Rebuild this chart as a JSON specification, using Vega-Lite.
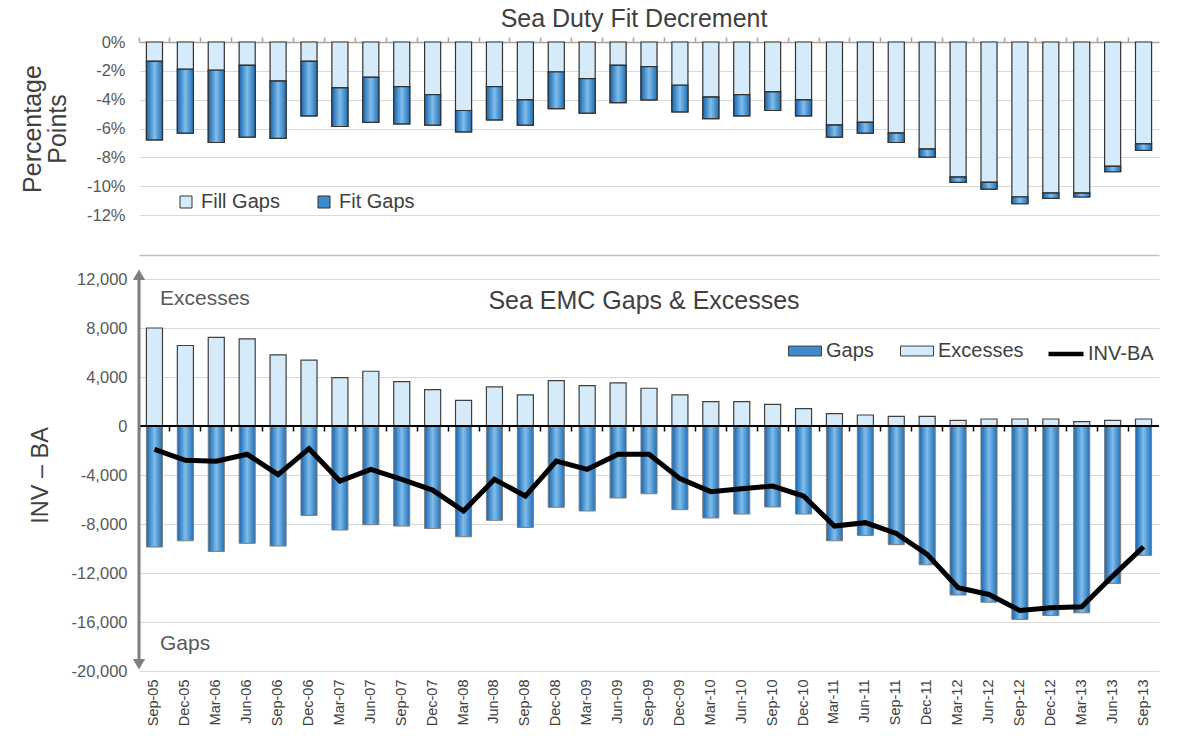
{
  "$schema": "https://vega.github.io/schema/vega-lite/v6.json",
  "background": "white",
  "padding": {"left": 20, "top": 7, "right": 10, "bottom": 2},
  "config": {
    "font": "Liberation Sans",
    "view": {"stroke": null},
    "axis": {"labelFont": "Liberation Sans", "titleFont": "Liberation Sans"},
    "legend": {"labelFont": "Liberation Sans"},
    "title": {"font": "Liberation Sans"}
  },
  "spacing": 14,
  "resolve": {"scale": {"fill": "independent", "stroke": "independent"}, "legend": {"fill": "independent", "stroke": "independent"}},
  "datasets": {
    "top": [
      {"d": "Sep-05", "s": "Fill Gaps", "v": -1.34}, {"d": "Sep-05", "s": "Fit Gaps", "v": -5.45},
      {"d": "Dec-05", "s": "Fill Gaps", "v": -1.89}, {"d": "Dec-05", "s": "Fit Gaps", "v": -4.43},
      {"d": "Mar-06", "s": "Fill Gaps", "v": -1.96}, {"d": "Mar-06", "s": "Fit Gaps", "v": -5.01},
      {"d": "Jun-06", "s": "Fill Gaps", "v": -1.62}, {"d": "Jun-06", "s": "Fit Gaps", "v": -4.98},
      {"d": "Sep-06", "s": "Fill Gaps", "v": -2.72}, {"d": "Sep-06", "s": "Fit Gaps", "v": -3.97},
      {"d": "Dec-06", "s": "Fill Gaps", "v": -1.34}, {"d": "Dec-06", "s": "Fit Gaps", "v": -3.78},
      {"d": "Mar-07", "s": "Fill Gaps", "v": -3.18}, {"d": "Mar-07", "s": "Fit Gaps", "v": -2.68},
      {"d": "Jun-07", "s": "Fill Gaps", "v": -2.45}, {"d": "Jun-07", "s": "Fit Gaps", "v": -3.13},
      {"d": "Sep-07", "s": "Fill Gaps", "v": -3.09}, {"d": "Sep-07", "s": "Fit Gaps", "v": -2.59},
      {"d": "Dec-07", "s": "Fill Gaps", "v": -3.65}, {"d": "Dec-07", "s": "Fit Gaps", "v": -2.12},
      {"d": "Mar-08", "s": "Fill Gaps", "v": -4.75}, {"d": "Mar-08", "s": "Fit Gaps", "v": -1.48},
      {"d": "Jun-08", "s": "Fill Gaps", "v": -3.09}, {"d": "Jun-08", "s": "Fit Gaps", "v": -2.31},
      {"d": "Sep-08", "s": "Fill Gaps", "v": -4.02}, {"d": "Sep-08", "s": "Fit Gaps", "v": -1.75},
      {"d": "Dec-08", "s": "Fill Gaps", "v": -2.08}, {"d": "Dec-08", "s": "Fit Gaps", "v": -2.54},
      {"d": "Mar-09", "s": "Fill Gaps", "v": -2.54}, {"d": "Mar-09", "s": "Fit Gaps", "v": -2.40},
      {"d": "Jun-09", "s": "Fill Gaps", "v": -1.62}, {"d": "Jun-09", "s": "Fit Gaps", "v": -2.58},
      {"d": "Sep-09", "s": "Fill Gaps", "v": -1.71}, {"d": "Sep-09", "s": "Fit Gaps", "v": -2.31},
      {"d": "Dec-09", "s": "Fill Gaps", "v": -3.00}, {"d": "Dec-09", "s": "Fit Gaps", "v": -1.85},
      {"d": "Mar-10", "s": "Fill Gaps", "v": -3.83}, {"d": "Mar-10", "s": "Fit Gaps", "v": -1.48},
      {"d": "Jun-10", "s": "Fill Gaps", "v": -3.65}, {"d": "Jun-10", "s": "Fit Gaps", "v": -1.47},
      {"d": "Sep-10", "s": "Fill Gaps", "v": -3.46}, {"d": "Sep-10", "s": "Fit Gaps", "v": -1.29},
      {"d": "Dec-10", "s": "Fill Gaps", "v": -4.02}, {"d": "Dec-10", "s": "Fit Gaps", "v": -1.10},
      {"d": "Mar-11", "s": "Fill Gaps", "v": -5.77}, {"d": "Mar-11", "s": "Fit Gaps", "v": -0.83},
      {"d": "Jun-11", "s": "Fill Gaps", "v": -5.58}, {"d": "Jun-11", "s": "Fit Gaps", "v": -0.74},
      {"d": "Sep-11", "s": "Fill Gaps", "v": -6.32}, {"d": "Sep-11", "s": "Fit Gaps", "v": -0.65},
      {"d": "Dec-11", "s": "Fill Gaps", "v": -7.43}, {"d": "Dec-11", "s": "Fit Gaps", "v": -0.55},
      {"d": "Mar-12", "s": "Fill Gaps", "v": -9.37}, {"d": "Mar-12", "s": "Fit Gaps", "v": -0.37},
      {"d": "Jun-12", "s": "Fill Gaps", "v": -9.74}, {"d": "Jun-12", "s": "Fit Gaps", "v": -0.46},
      {"d": "Sep-12", "s": "Fill Gaps", "v": -10.75}, {"d": "Sep-12", "s": "Fit Gaps", "v": -0.47},
      {"d": "Dec-12", "s": "Fill Gaps", "v": -10.48}, {"d": "Dec-12", "s": "Fit Gaps", "v": -0.37},
      {"d": "Mar-13", "s": "Fill Gaps", "v": -10.48}, {"d": "Mar-13", "s": "Fit Gaps", "v": -0.27},
      {"d": "Jun-13", "s": "Fill Gaps", "v": -8.63}, {"d": "Jun-13", "s": "Fit Gaps", "v": -0.37},
      {"d": "Sep-13", "s": "Fill Gaps", "v": -7.06}, {"d": "Sep-13", "s": "Fit Gaps", "v": -0.46}
    ],
    "bottom": [
      {"d": "Sep-05", "gaps": -9880, "exc": 8000, "inv": -1900},
      {"d": "Dec-05", "gaps": -9370, "exc": 6570, "inv": -2800},
      {"d": "Mar-06", "gaps": -10240, "exc": 7230, "inv": -2880},
      {"d": "Jun-06", "gaps": -9580, "exc": 7120, "inv": -2310},
      {"d": "Sep-06", "gaps": -9800, "exc": 5810, "inv": -3970},
      {"d": "Dec-06", "gaps": -7300, "exc": 5370, "inv": -1850},
      {"d": "Mar-07", "gaps": -8490, "exc": 3950, "inv": -4490},
      {"d": "Jun-07", "gaps": -8060, "exc": 4470, "inv": -3540},
      {"d": "Sep-07", "gaps": -8170, "exc": 3630, "inv": -4350},
      {"d": "Dec-07", "gaps": -8360, "exc": 2970, "inv": -5230},
      {"d": "Mar-08", "gaps": -9040, "exc": 2100, "inv": -6940},
      {"d": "Jun-08", "gaps": -7700, "exc": 3190, "inv": -4350},
      {"d": "Sep-08", "gaps": -8280, "exc": 2540, "inv": -5720},
      {"d": "Dec-08", "gaps": -6640, "exc": 3710, "inv": -2860},
      {"d": "Mar-09", "gaps": -6940, "exc": 3300, "inv": -3540},
      {"d": "Jun-09", "gaps": -5880, "exc": 3520, "inv": -2310},
      {"d": "Sep-09", "gaps": -5530, "exc": 3080, "inv": -2310},
      {"d": "Dec-09", "gaps": -6830, "exc": 2540, "inv": -4300},
      {"d": "Mar-10", "gaps": -7510, "exc": 1990, "inv": -5360},
      {"d": "Jun-10", "gaps": -7190, "exc": 1990, "inv": -5120},
      {"d": "Sep-10", "gaps": -6610, "exc": 1770, "inv": -4900},
      {"d": "Dec-10", "gaps": -7190, "exc": 1420, "inv": -5720},
      {"d": "Mar-11", "gaps": -9370, "exc": 1010, "inv": -8170},
      {"d": "Jun-11", "gaps": -8930, "exc": 900, "inv": -7890},
      {"d": "Sep-11", "gaps": -9690, "exc": 790, "inv": -8770},
      {"d": "Dec-11", "gaps": -11330, "exc": 790, "inv": -10480},
      {"d": "Mar-12", "gaps": -13800, "exc": 460, "inv": -13200},
      {"d": "Jun-12", "gaps": -14380, "exc": 570, "inv": -13750},
      {"d": "Sep-12", "gaps": -15790, "exc": 570, "inv": -15060},
      {"d": "Dec-12", "gaps": -15470, "exc": 570, "inv": -14840},
      {"d": "Mar-13", "gaps": -15250, "exc": 360, "inv": -14760},
      {"d": "Jun-13", "gaps": -12850, "exc": 460, "inv": -12250},
      {"d": "Sep-13", "gaps": -10560, "exc": 570, "inv": -9860}
    ]
  },
  "vconcat": [
    {
      "width": 1020,
      "height": 173,
      "title": {"text": "Sea Duty Fit Decrement", "fontSize": 25, "fontWeight": "normal", "color": "#404040", "offset": 2, "anchor": "middle", "frame": "group", "dx": -15},
      "data": {"name": "top"},
      "transform": [
        {"stack": "v", "groupby": ["d"], "sort": [{"field": "s", "order": "ascending"}], "as": ["v0", "v1"]}
      ],
      "resolve": {"axis": {"x": "independent"}},
      "layer": [
        {
          "mark": {"type": "bar", "width": {"band": 0.52}, "stroke": "#333333", "strokeWidth": 1.2},
          "encoding": {
            "x": {
              "field": "d", "type": "ordinal", "sort": null,
              "scale": {"domain": ["Sep-05","Dec-05","Mar-06","Jun-06","Sep-06","Dec-06","Mar-07","Jun-07","Sep-07","Dec-07","Mar-08","Jun-08","Sep-08","Dec-08","Mar-09","Jun-09","Sep-09","Dec-09","Mar-10","Jun-10","Sep-10","Dec-10","Mar-11","Jun-11","Sep-11","Dec-11","Mar-12","Jun-12","Sep-12","Dec-12","Mar-13","Jun-13","Sep-13"], "paddingInner": 0, "paddingOuter": 0},
              "axis": {"orient": "top", "title": null, "labels": false, "ticks": true, "tickColor": "#a6a6a6", "tickSize": 5, "tickWidth": 1.5, "bandPosition": 0, "domainColor": "#a6a6a6", "domainWidth": 1.5, "grid": false}
            },
            "y": {
              "field": "v0", "type": "quantitative", "title": ["Percentage", "Points"],
              "scale": {"domain": [-12, 0], "nice": false},
              "axis": {
                "values": [0, -2, -4, -6, -8, -10, -12],
                "labelExpr": "datum.value + '%'",
                "labelOverlap": false,
                "titleFontSize": 25, "titleFontWeight": "normal", "titleColor": "#404040", "titleLineHeight": 25, "titlePadding": 16,
                "labelFontSize": 16.5, "labelColor": "#595959", "labelPadding": 14,
                "domain": false, "ticks": false, "gridColor": "#d9d9d9", "gridWidth": 1.2
              }
            },
            "y2": {"field": "v1"},
            "fill": {
              "field": "s", "type": "nominal",
              "scale": {"domain": ["Fill Gaps", "Fit Gaps"], "range": ["#d6ebfa", "#3d8bcd"]},
              "legend": {"orient": "none", "legendX": 37, "legendY": 150, "direction": "horizontal", "title": null, "symbolType": "square", "symbolSize": 144, "symbolStrokeColor": "#333333", "symbolStrokeWidth": 1, "labelFontSize": 20, "labelColor": "#404040", "columnPadding": 34, "labelOffset": 5}
            }
          }
        },
        {
          "transform": [{"filter": "datum.s === 'Fit Gaps'"}],
          "mark": {"type": "bar", "width": {"band": 0.52}, "stroke": "#333333", "strokeWidth": 1.2,
            "fill": {"gradient": "linear", "x1": 0, "y1": 0, "x2": 1, "y2": 0, "stops": [{"offset": 0, "color": "#1565b0"}, {"offset": 0.5, "color": "#80bdea"}, {"offset": 1, "color": "#1f70b8"}]}},
          "encoding": {
            "x": {"field": "d", "type": "ordinal", "sort": null,
              "scale": {"domain": ["Sep-05","Dec-05","Mar-06","Jun-06","Sep-06","Dec-06","Mar-07","Jun-07","Sep-07","Dec-07","Mar-08","Jun-08","Sep-08","Dec-08","Mar-09","Jun-09","Sep-09","Dec-09","Mar-10","Jun-10","Sep-10","Dec-10","Mar-11","Jun-11","Sep-11","Dec-11","Mar-12","Jun-12","Sep-12","Dec-12","Mar-13","Jun-13","Sep-13"], "paddingInner": 0, "paddingOuter": 0},
              "axis": {"orient": "bottom", "offset": 40, "title": null, "labels": false, "ticks": false, "grid": false, "domain": true, "domainColor": "#bfbfbf", "domainWidth": 1.5}},
            "y": {
              "field": "v0", "type": "quantitative", "title": ["Percentage", "Points"],
              "scale": {"domain": [-12, 0], "nice": false},
              "axis": {
                "values": [0, -2, -4, -6, -8, -10, -12],
                "labelExpr": "datum.value + '%'",
                "labelOverlap": false,
                "titleFontSize": 25, "titleFontWeight": "normal", "titleColor": "#404040", "titleLineHeight": 25, "titlePadding": 16,
                "labelFontSize": 16.5, "labelColor": "#595959", "labelPadding": 14,
                "domain": false, "ticks": false, "gridColor": "#d9d9d9", "gridWidth": 1.2
              }
            },
            "y2": {"field": "v1"}
          }
        }
      ]
    },
    {
      "width": 1020,
      "height": 392,
      "title": {"text": "Sea EMC Gaps & Excesses", "fontSize": 25, "fontWeight": "normal", "color": "#404040", "offset": -45, "anchor": "middle", "frame": "group", "dx": -5},
      "resolve": {"axis": {"x": "independent"}},
      "layer": [
        {
          "data": {"name": "bottom"},
          "mark": {"type": "bar", "width": {"band": 0.52}, "stroke": "#404040", "strokeWidth": 1.2},
          "encoding": {
            "x": {
              "field": "d", "type": "ordinal", "sort": null,
              "scale": {"domain": ["Sep-05","Dec-05","Mar-06","Jun-06","Sep-06","Dec-06","Mar-07","Jun-07","Sep-07","Dec-07","Mar-08","Jun-08","Sep-08","Dec-08","Mar-09","Jun-09","Sep-09","Dec-09","Mar-10","Jun-10","Sep-10","Dec-10","Mar-11","Jun-11","Sep-11","Dec-11","Mar-12","Jun-12","Sep-12","Dec-12","Mar-13","Jun-13","Sep-13"], "paddingInner": 0, "paddingOuter": 0},
              "axis": {"orient": "bottom", "offset": -245, "title": null, "labels": false, "domain": false, "ticks": true, "tickColor": "#000000", "tickSize": 5, "tickWidth": 1.5, "bandPosition": 0, "grid": false}
            },
            "y": {
              "field": "exc", "type": "quantitative", "title": "INV – BA",
              "scale": {"domain": [-20000, 12000], "nice": false},
              "axis": {
                "values": [12000, 8000, 4000, 0, -4000, -8000, -12000, -16000, -20000],
                "labelExpr": "(datum.value < 0 ? '-' : '') + format(abs(datum.value), ',')",
                "labelOverlap": false,
                "titleFontSize": 23.5, "titleFontWeight": "normal", "titleColor": "#404040", "titlePadding": 19,
                "labelFontSize": 16.5, "labelColor": "#595959", "labelPadding": 12,
                "domain": false, "ticks": false, "gridColor": "#d9d9d9", "gridWidth": 1.2
              }
            },
            "fill": {
              "datum": "Excesses",
              "scale": {"domain": ["Gaps", "Excesses"], "range": ["#3d8bcd", "#d6ebfa"]},
              "legend": {"orient": "none", "legendX": 649, "legendY": 55, "direction": "horizontal", "title": null, "symbolType": "M-1,-0.3L1,-0.3L1,0.3L-1,0.3Z", "symbolSize": 1089, "symbolStrokeColor": "#404040", "symbolStrokeWidth": 1, "labelFontSize": 20, "labelColor": "#404040", "columnPadding": 24, "labelOffset": 4}
            }
          }
        },
        {
          "data": {"name": "bottom"},
          "mark": {"type": "bar", "width": {"band": 0.52}, "stroke": "#7f7f7f", "strokeWidth": 1,
            "fill": {"gradient": "linear", "x1": 0, "y1": 0, "x2": 1, "y2": 0, "stops": [{"offset": 0, "color": "#1565b0"}, {"offset": 0.5, "color": "#80bdea"}, {"offset": 1, "color": "#1f70b8"}]}},
          "encoding": {
            "x": {
              "field": "d", "type": "ordinal", "sort": null,
              "scale": {"domain": ["Sep-05","Dec-05","Mar-06","Jun-06","Sep-06","Dec-06","Mar-07","Jun-07","Sep-07","Dec-07","Mar-08","Jun-08","Sep-08","Dec-08","Mar-09","Jun-09","Sep-09","Dec-09","Mar-10","Jun-10","Sep-10","Dec-10","Mar-11","Jun-11","Sep-11","Dec-11","Mar-12","Jun-12","Sep-12","Dec-12","Mar-13","Jun-13","Sep-13"], "paddingInner": 0, "paddingOuter": 0},
              "axis": {"orient": "bottom", "title": null, "labels": true, "labelAngle": -90, "labelFontSize": 14.5, "labelColor": "#404040", "labelPadding": 8, "domain": false, "ticks": false, "grid": false}
            },
            "y": {"field": "gaps", "type": "quantitative", "title": "INV – BA", "scale": {"domain": [-20000, 12000], "nice": false}}
          }
        },
        {
          "data": {"values": [{}]},
          "mark": {"type": "rule", "color": "#000000", "strokeWidth": 2},
          "encoding": {"y": {"datum": 0, "type": "quantitative", "title": "INV – BA", "scale": {"domain": [-20000, 12000], "nice": false}}}
        },
        {
          "data": {"name": "bottom"},
          "mark": {"type": "line", "strokeWidth": 5, "strokeJoin": "miter"},
          "encoding": {
            "x": {"field": "d", "type": "ordinal", "sort": null, "axis": null,
              "scale": {"domain": ["Sep-05","Dec-05","Mar-06","Jun-06","Sep-06","Dec-06","Mar-07","Jun-07","Sep-07","Dec-07","Mar-08","Jun-08","Sep-08","Dec-08","Mar-09","Jun-09","Sep-09","Dec-09","Mar-10","Jun-10","Sep-10","Dec-10","Mar-11","Jun-11","Sep-11","Dec-11","Mar-12","Jun-12","Sep-12","Dec-12","Mar-13","Jun-13","Sep-13"], "paddingInner": 0, "paddingOuter": 0}},
            "y": {"field": "inv", "type": "quantitative", "title": "INV – BA", "scale": {"domain": [-20000, 12000], "nice": false}},
            "stroke": {
              "datum": "INV-BA",
              "scale": {"domain": ["INV-BA"], "range": ["#000000"]},
              "legend": {"orient": "none", "legendX": 907, "legendY": 55, "title": null, "symbolType": "stroke", "symbolSize": 1225, "symbolStrokeWidth": 4.5, "labelFontSize": 20, "labelColor": "#404040", "labelOffset": 2}
            }
          }
        },
        {
          "data": {"values": [{}]},
          "mark": {"type": "rule", "color": "#7f7f7f", "strokeWidth": 3},
          "encoding": {
            "x": {"datum": "Sep-05", "type": "ordinal", "bandPosition": 0, "axis": null},
            "y": {"datum": 12100, "type": "quantitative", "title": "INV – BA", "scale": {"domain": [-20000, 12000], "nice": false}},
            "y2": {"datum": -19500}
          }
        },
        {
          "data": {"values": [{}]},
          "mark": {"type": "point", "shape": "triangle-up", "filled": true, "size": 150, "color": "#7f7f7f", "opacity": 1},
          "encoding": {
            "x": {"datum": "Sep-05", "type": "ordinal", "bandPosition": 0, "axis": null},
            "y": {"datum": 12350, "type": "quantitative", "title": "INV – BA", "scale": {"domain": [-20000, 12000], "nice": false}}
          }
        },
        {
          "data": {"values": [{}]},
          "mark": {"type": "point", "shape": "triangle-down", "filled": true, "size": 150, "color": "#7f7f7f", "opacity": 1},
          "encoding": {
            "x": {"datum": "Sep-05", "type": "ordinal", "bandPosition": 0, "axis": null},
            "y": {"datum": -19450, "type": "quantitative", "title": "INV – BA", "scale": {"domain": [-20000, 12000], "nice": false}}
          }
        },
        {
          "data": {"values": [{}]},
          "mark": {"type": "text", "align": "left", "baseline": "middle", "fontSize": 21, "color": "#595959", "dx": 21},
          "encoding": {
            "x": {"datum": "Sep-05", "type": "ordinal", "bandPosition": 0, "axis": null},
            "y": {"datum": 10370, "type": "quantitative", "title": "INV – BA", "scale": {"domain": [-20000, 12000], "nice": false}},
            "text": {"value": "Excesses"}
          }
        },
        {
          "data": {"values": [{}]},
          "mark": {"type": "text", "align": "left", "baseline": "middle", "fontSize": 21, "color": "#595959", "dx": 21},
          "encoding": {
            "x": {"datum": "Sep-05", "type": "ordinal", "bandPosition": 0, "axis": null},
            "y": {"datum": -17800, "type": "quantitative", "title": "INV – BA", "scale": {"domain": [-20000, 12000], "nice": false}},
            "text": {"value": "Gaps"}
          }
        }
      ]
    }
  ]
}
